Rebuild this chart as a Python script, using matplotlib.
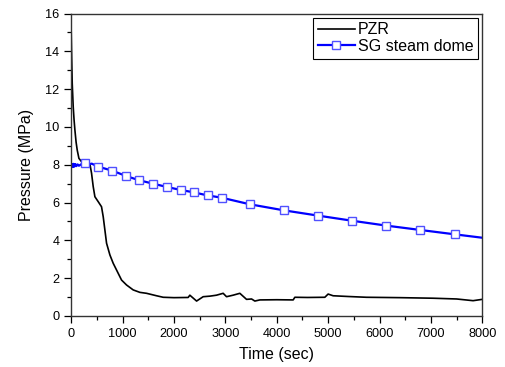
import numpy as np
import matplotlib.pyplot as plt
from matplotlib.ticker import MultipleLocator

plt.rcParams['font.family'] = ['Liberation Sans', 'DejaVu Sans']

# PZR pressure
t_pzr = [0, 8, 20, 39, 55, 72, 95, 117, 150, 202, 280, 364, 396, 428, 461, 525, 590,
         623, 688, 753, 817, 914, 980, 1077, 1206, 1336, 1466, 1661, 1790, 2000, 2276,
         2309, 2440, 2568, 2700, 2827, 2957, 3023, 3150, 3282, 3412, 3510, 3574, 3671,
         4000, 4320, 4352, 4600, 4936, 5000, 5097, 5400, 5745, 6400, 7043, 7500, 7821,
         8000]
p_pzr = [15.0, 13.8, 12.3, 11.07, 10.4, 9.84, 9.2, 8.78, 8.34, 8.16, 8.1, 8.04, 7.55,
         6.85, 6.31, 6.05, 5.78, 5.25, 3.85, 3.23, 2.79, 2.26, 1.9, 1.64, 1.38, 1.25,
         1.2, 1.07, 0.99, 0.97, 0.98, 1.1, 0.79, 1.02, 1.05, 1.1, 1.2, 1.02, 1.1, 1.2,
         0.88, 0.9, 0.79, 0.85, 0.86, 0.85, 0.99, 0.98, 0.99, 1.16, 1.07, 1.03, 0.99,
         0.97, 0.94, 0.9, 0.81, 0.88]

# SG steam dome pressure
t_sg = [0, 15, 30, 45, 60, 80, 100, 125, 150, 180, 210, 266, 330, 400, 525, 798, 1064,
        1323, 1596, 1856, 2128, 2387, 2654, 2926, 3477, 4138, 4805, 5466, 6136, 6797,
        7465, 8000]
p_sg = [7.95, 8.03, 7.88, 8.05, 7.9, 8.04, 7.93, 8.02, 7.95, 8.0, 8.05, 8.11, 8.02,
        8.06, 7.9, 7.69, 7.41, 7.18, 7.0, 6.83, 6.67, 6.54, 6.38, 6.26, 5.91, 5.59,
        5.31, 5.04, 4.78, 4.55, 4.32, 4.14]
sg_marks = [11] + list(range(14, 31))

fig = plt.figure(figsize=(5.05, 3.67), dpi=100)
ax = fig.add_axes([0.141, 0.139, 0.814, 0.824])

ax.plot(t_pzr, p_pzr, color='black', lw=1.2, label='PZR')
ax.plot(t_sg, p_sg, color='#0000ff', lw=1.6, marker='s', markevery=sg_marks,
        markersize=6, markerfacecolor='white', markeredgecolor='#5050ff',
        markeredgewidth=1.0, label='SG steam dome')

ax.set_xlim(0, 8000)
ax.set_ylim(0, 16)
ax.xaxis.set_major_locator(MultipleLocator(1000))
ax.xaxis.set_minor_locator(MultipleLocator(500))
ax.yaxis.set_major_locator(MultipleLocator(2))
ax.yaxis.set_minor_locator(MultipleLocator(1))
ax.tick_params(which='both', direction='out', top=False, right=False, labelsize=9.2)
ax.tick_params(which='major', length=5, width=0.9)
ax.tick_params(which='minor', length=3, width=0.9)
for s in ax.spines.values():
    s.set_linewidth(1.0)
    s.set_color('#333333')

ax.set_xlabel('Time (sec)', fontsize=11.5, labelpad=5)
ax.set_ylabel('Pressure (MPa)', fontsize=11.5, labelpad=8)

leg = ax.legend(loc='upper right', fontsize=11.5, handlelength=2.3, handletextpad=0.2,
                borderpad=0.3, labelspacing=0.1, fancybox=False, framealpha=1,
                borderaxespad=0.25)
leg.get_frame().set_edgecolor('black')
leg.get_frame().set_linewidth(0.8)

fig.savefig('out.png', dpi=100)
